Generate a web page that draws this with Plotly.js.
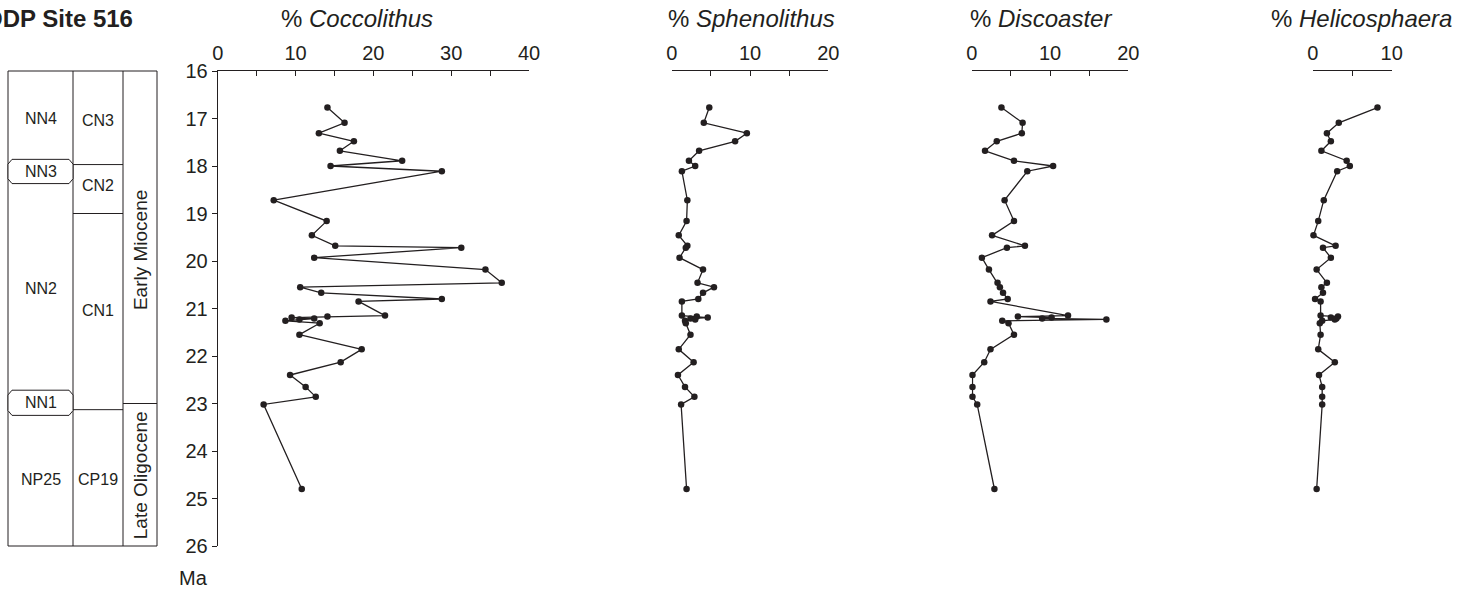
<!DOCTYPE html>
<html><head><meta charset="utf-8">
<script src="https://cdn.plot.ly/plotly-3.0.1.min.js"></script>
<style>html,body{margin:0;padding:0;background:#fff;overflow:hidden}</style>
</head><body><div id="chart" style="width:1462px;height:594px"></div>
<script>
// ---------------- data (ages in Ma, abundances in %) ----------------
const ages = [16.77, 17.09, 17.31, 17.48, 17.68, 17.89, 18.00, 18.11, 18.72, 19.16, 19.46, 19.68, 19.72, 19.93, 20.18, 20.46, 20.55, 20.67, 20.80, 20.85, 21.15, 21.17, 21.19, 21.21, 21.23, 21.26, 21.31, 21.55, 21.86, 22.13, 22.40, 22.65, 22.86, 23.02, 24.80];
const coccolithus = [14.1, 16.3, 13.0, 17.5, 15.7, 23.7, 14.5, 28.8, 7.2, 14.0, 12.1, 15.1, 31.3, 12.4, 34.4, 36.5, 10.6, 13.3, 28.8, 18.1, 21.5, 14.1, 9.5, 12.4, 10.5, 8.7, 13.1, 10.5, 18.5, 15.8, 9.3, 11.3, 12.6, 5.9, 10.8];
const sphenolithus = [4.8, 4.1, 9.6, 8.1, 3.5, 2.2, 3.0, 1.3, 2.0, 1.9, 0.9, 2.0, 1.8, 1.0, 4.0, 3.3, 5.4, 4.0, 3.4, 1.3, 1.3, 3.2, 4.6, 2.4, 3.0, 1.7, 1.8, 2.4, 0.9, 2.8, 0.8, 1.7, 2.9, 1.2, 1.9];
const discoaster = [3.8, 6.5, 6.4, 3.2, 1.7, 5.4, 10.4, 7.1, 4.2, 5.4, 2.6, 6.8, 4.5, 1.3, 2.2, 3.3, 3.6, 4.0, 4.6, 2.4, 12.3, 5.9, 10.2, 9.0, 17.2, 3.9, 4.7, 5.4, 2.4, 1.6, 0.1, 0.1, 0.1, 0.7, 2.9];
const helicosphaera = [8.2, 3.3, 1.8, 2.3, 1.1, 4.3, 4.7, 3.1, 1.4, 0.7, 0.1, 2.9, 1.3, 2.3, 0.5, 1.8, 1.1, 1.3, 0.3, 1.0, 1.0, 3.2, 2.3, 3.0, 2.8, 1.2, 0.9, 1.0, 0.7, 2.8, 0.8, 1.2, 1.2, 1.2, 0.5];

const panelNames = ['Coccolithus', 'Sphenolithus', 'Discoaster', 'Helicosphaera'];
const panelSeries = [coccolithus, sphenolithus, discoaster, helicosphaera];
const panelMax = [40, 20, 20, 10];
const ageTicks = [16, 17, 18, 19, 20, 21, 22, 23, 24, 25, 26];
const ageUnit = 'Ma';
const siteTitle = 'ODP Site 516';

// stratigraphic column
const nnZones = ['NN4', 'NN3', 'NN2', 'NN1', 'NP25'];
const nnLabelAges = [17.0, 18.12, 20.57, 22.97, 24.61];
const nnThinTop = [17.86, 22.72];      // NN3, NN1 boxes
const nnThinBottom = [18.37, 23.25];
const cnZones = ['CN3', 'CN2', 'CN1', 'CP19'];
const cnLabelAges = [17.04, 18.42, 21.05, 24.61];
const cnBoundaries = [17.97, 19.0, 23.13];
const epochs = ['Early Miocene', 'Late Oligocene'];
const epochLabelAges = [19.77, 24.51];
const epochBoundaries = [23.0];

// ---------------- layout geometry ----------------
const W = 1462, H = 594;
const M = {l: 0, r: 0, t: 71, b: 48};
const plotH = H - M.t - M.b;
const px = v => v / W;                       // x pixel -> paper
const py = v => (H - M.b - v) / plotH;       // y pixel -> paper
const ink = '#231f20';
const FONT = 'Liberation Sans, Arial, sans-serif';
const panelDomains = [[217.7, 529], [671.7, 828.3], [971.7, 1128.3], [1312.7, 1391.7]];
const titleCenters = [356.5, 751.7, 1041.3, 1361.7];
const colX = [8, 73, 123, 157];

const traces = panelSeries.map((s, i) => ({
  type: 'scatter', mode: 'lines+markers',
  x: s, y: ages,
  xaxis: i === 0 ? 'x' : 'x' + (i + 1), yaxis: 'y',
  line: {color: ink, width: 1.3},
  marker: {color: ink, size: 6.5},
  cliponaxis: false, hoverinfo: 'x+y', showlegend: false
}));

const layout = {
  width: W, height: H, margin: M,
  paper_bgcolor: '#fff', plot_bgcolor: 'rgba(0,0,0,0)',
  font: {family: FONT, color: ink, size: 20},
  showlegend: false,
  yaxis: {
    domain: [0, 1], range: [26, 16], anchor: 'x',
    showline: true, linecolor: ink, linewidth: 1,
    ticks: 'outside', ticklen: 5, tickcolor: ink, tickwidth: 1,
    tickvals: ageTicks, ticktext: ageTicks.map(String),
    tickfont: {size: 20, family: FONT, color: ink},
    showgrid: false, zeroline: false, fixedrange: true
  },
  shapes: [], annotations: []
};

panelMax.forEach((mx, i) => {
  const key = i === 0 ? 'xaxis' : 'xaxis' + (i + 1);
  const vals = [];
  for (let v = 0; v <= mx; v += 5) vals.push(v);
  layout[key] = {
    domain: [px(panelDomains[i][0]), px(panelDomains[i][1])],
    range: [0, mx], anchor: 'y', side: 'top',
    showline: true, linecolor: ink, linewidth: 1,
    ticks: 'inside', ticklen: 5, tickcolor: ink, tickwidth: 1,
    tickvals: vals, ticktext: vals.map(v => v % 10 === 0 ? String(v) : ''),
    tickfont: {size: 20, family: FONT, color: ink},
    ticklabelstandoff: 2,
    showgrid: false, zeroline: false, fixedrange: true
  };
  layout.annotations.push({
    xref: 'paper', yref: 'paper', x: px(titleCenters[i]), y: py(18),
    xanchor: 'center', yanchor: 'middle', showarrow: false,
    text: '% <i>' + panelNames[i] + '</i>', font: {size: 24, family: FONT, color: ink}
  });
});

layout.annotations.push({
  xref: 'paper', yref: 'paper', x: px(135), y: py(18), xanchor: 'right', yanchor: 'middle',
  showarrow: false, text: '<b>' + siteTitle + '</b>', font: {size: 24, family: FONT, color: ink}
});
layout.annotations.push({
  xref: 'paper', yref: 'paper', x: px(193), y: py(578), xanchor: 'center', yanchor: 'middle',
  showarrow: false, text: ageUnit, font: {size: 20, family: FONT, color: ink}
});

// ---- stratigraphic column ----
const S = layout.shapes;
const lineStyle = {color: ink, width: 1};
S.push({type: 'rect', xref: 'paper', yref: 'paper', x0: px(colX[0]), x1: px(colX[3]), y0: 0, y1: 1, line: lineStyle});
[colX[1], colX[2]].forEach(x => S.push({type: 'line', xref: 'paper', yref: 'paper', x0: px(x), x1: px(x), y0: 0, y1: 1, line: lineStyle}));
cnBoundaries.forEach(a => S.push({type: 'line', xref: 'paper', yref: 'y', x0: px(colX[1]), x1: px(colX[2]), y0: a, y1: a, line: lineStyle}));
epochBoundaries.forEach(a => S.push({type: 'line', xref: 'paper', yref: 'y', x0: px(colX[2]), x1: px(colX[3]), y0: a, y1: a, line: lineStyle}));
nnThinTop.forEach((top, k) => {
  const bot = nnThinBottom[k];
  S.push({type: 'rect', xref: 'paper', yref: 'y', x0: px(colX[0] + 1), x1: px(colX[1] - 1), y0: top - 0.02, y1: bot + 0.02, fillcolor: '#fff', line: {width: 0}});
  const xa = px(colX[0]), xb = px(colX[0] + 4), xc = px(colX[1] - 4), xd = px(colX[1]);
  const d = 0.1;
  S.push({type: 'path', xref: 'paper', yref: 'y', fillcolor: '#fff', line: lineStyle,
    path: `M ${xb},${top} L ${xc},${top} L ${xd},${top + d} L ${xd},${bot - d} L ${xc},${bot} L ${xb},${bot} L ${xa},${bot - d} L ${xa},${top + d} Z`});
});

const A = layout.annotations;
const colFont = {size: 16, family: FONT, color: ink};
nnZones.forEach((z, k) => A.push({xref: 'paper', yref: 'y', x: px((colX[0] + colX[1]) / 2), y: nnLabelAges[k], text: z, showarrow: false, xanchor: 'center', yanchor: 'middle', font: colFont}));
cnZones.forEach((z, k) => A.push({xref: 'paper', yref: 'y', x: px((colX[1] + colX[2]) / 2), y: cnLabelAges[k], text: z, showarrow: false, xanchor: 'center', yanchor: 'middle', font: colFont}));
epochs.forEach((e, k) => A.push({xref: 'paper', yref: 'y', x: px((colX[2] + colX[3]) / 2), y: epochLabelAges[k], text: e, textangle: -90, showarrow: false, xanchor: 'center', yanchor: 'middle', font: {size: 19, family: FONT, color: ink}}));

Plotly.newPlot('chart', traces, layout, {displayModeBar: false, staticPlot: true});
</script>
</body></html>
